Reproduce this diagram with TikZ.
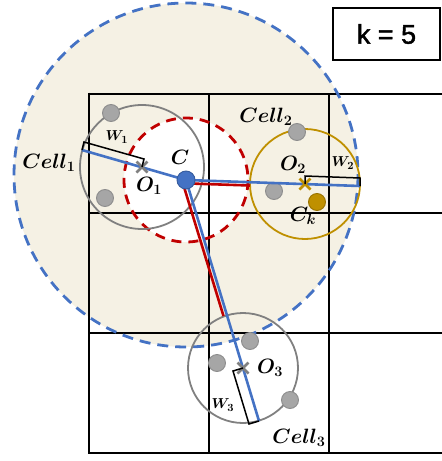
\documentclass[tikz,border=0pt]{standalone}
\usepackage{bm}
\usepackage{fontspec}
\usetikzlibrary{calc}
\newfontfamily\boxfont[FakeBold=1.6]{Liberation Sans}
\definecolor{beige}{HTML}{F5F1E4}
\definecolor{myblue}{HTML}{4472C4}
\definecolor{myred}{HTML}{C00000}
\definecolor{mygold}{HTML}{BF9000}
\definecolor{mygray}{HTML}{808080}
\definecolor{dotgray}{HTML}{A6A6A6}
\tikzset{
  gridline/.style={line width=2.8pt, black},
  cellcirc/.style={line width=1.8pt, draw=mygray},
  dotpt/.style={circle, fill=dotgray, draw=mygray!90, line width=0.9pt, minimum size=17pt, inner sep=0pt},
  lbl/.style={font=\fontsize{19.5}{22}\selectfont, inner sep=0pt},
  slbl/.style={font=\fontsize{15}{17}\selectfont, inner sep=0pt},
  blueline/.style={line width=2.6pt, myblue},
  redline/.style={line width=2.6pt, myred},
  brk/.style={line width=1.5pt, black},
  crossln/.style={line width=2.6pt}
}
\begin{document}
\begin{tikzpicture}[x=1pt,y=-1pt]
\useasboundingbox (0,0) rectangle (442,461);
% big dashed region
\fill[beige] (186,175) circle (172);
% red dashed circle with white interior
\fill[white] (186,180) circle (62);
% grid
\draw[gridline] (89,94) -- (442,94);
\draw[gridline] (89,213) -- (442,213);
\draw[gridline] (89,333) -- (442,333);
\draw[gridline] (89,453) -- (442,453);
\draw[gridline] (89,92.6) -- (89,454.4);
\draw[gridline] (209,94) -- (209,453);
\draw[gridline] (329,94) -- (329,453);
% dashed outlines
\draw[myblue, line width=2.8pt, dash pattern=on 11pt off 7pt] (186,175) circle (172);
\draw[myred, line width=2.8pt, dash pattern=on 10pt off 7pt] (186,180) circle (62);
% named points
\coordinate (C) at (186,180);
\coordinate (O1) at (142,167);
\coordinate (O2) at (305,184);
\coordinate (O3) at (243,368);
\coordinate (E1) at (82,150);
\coordinate (E2) at (360,186);
\coordinate (E3) at (259,421);
% cell circles
\draw[cellcirc] (O1) circle (62);
\draw[line width=1.8pt, draw=mygold] (O2) circle (55);
\draw[cellcirc] (O3) circle (55);
% dots
\node[dotpt] (d11) at (111,113) {};
\node[dotpt] (d12) at (105,198) {};
\node[dotpt] (d21) at (297,132) {};
\node[dotpt] (d22) at (274,191) {};
\node[dotpt, fill=mygold, draw=mygold!80!black] (ck) at (317,202) {};
\node[dotpt] (d31) at (250,341) {};
\node[dotpt] (d32) at (217,363) {};
\node[dotpt] (d33) at (290,400) {};
% red distance lines
\coordinate (R2a) at (190,183.5);
\coordinate (R2b) at (250,185.5);
\coordinate (R3a) at (182.5,182);
\coordinate (R3b) at (223.5,316);
\draw[redline] (R2a) -- (R2b);
\draw[redline] (R3a) -- (R3b);
% blue lines
\draw[blueline] (C) -- (E1);
\draw[blueline] (C) -- (E2);
\draw[blueline] (C) -- (E3);
% crosses
\draw[crossln, mygray] ($(O1)+(-5.5,-5.5)$) -- ($(O1)+(5.5,5.5)$) ($(O1)+(-5.5,5.5)$) -- ($(O1)+(5.5,-5.5)$);
\draw[crossln, mygold] ($(O2)+(-5.5,-5.5)$) -- ($(O2)+(5.5,5.5)$) ($(O2)+(-5.5,5.5)$) -- ($(O2)+(5.5,-5.5)$);
\draw[crossln, mygray] ($(O3)+(-5.5,-5.5)$) -- ($(O3)+(5.5,5.5)$) ($(O3)+(-5.5,5.5)$) -- ($(O3)+(5.5,-5.5)$);
% point C
\node[circle, fill=myblue, draw=myblue!80!black, line width=0.9pt, minimum size=18pt, inner sep=0pt] (Cpt) at (C) {};
% width brackets
\coordinate (B1a) at (144,159);
\coordinate (B1b) at (84,142);
\draw[brk] (O1) -- (B1a) -- (B1b) -- (E1);
\coordinate (B2a) at (305,176);
\coordinate (B2b) at (360,178);
\draw[brk] (O2) -- (B2a) -- (B2b) -- (E2);
\coordinate (B3a) at (233,371);
\coordinate (B3b) at (249,424);
\draw[brk] (O3) -- (B3a) -- (B3b) -- (E3);
% labels
\node[lbl] (lc1) at (49,163) {$\bm{Cell_1}$};
\node[lbl] (lc) at (180,157) {$\bm{C}$};
\node[lbl] (lo1) at (149,186) {$\bm{O_1}$};
\node[slbl] (lw1) at (117,137) {$\bm{W_1}$};
\node[lbl] (lc2) at (266,117) {$\bm{Cell_2}$};
\node[lbl] (lo2) at (293,165) {$\bm{O_2}$};
\node[slbl] (lw2) at (343,163) {$\bm{W_2}$};
\node[lbl] (lck) at (303,216) {$\bm{C_k}$};
\node[lbl] (lo3) at (270,368) {$\bm{O_3}$};
\node[slbl] (lw3) at (223,405) {$\bm{W_3}$};
\node[lbl] (lc3) at (299,438) {$\bm{Cell_3}$};
% k box
\node[draw, line width=1.8pt, minimum width=107pt, minimum height=52pt, inner sep=0pt, font=\boxfont\fontsize{27}{30}\selectfont] (kbox) at (386.5,34) {k = 5};
\end{tikzpicture}
\end{document}
